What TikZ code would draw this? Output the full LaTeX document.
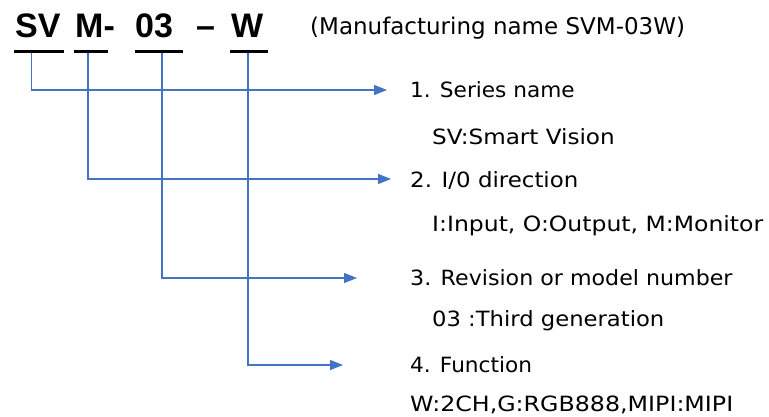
\documentclass[tikz,border=0pt]{standalone}
\usepackage{fontspec}
\usepackage{graphicx}
\setmainfont{DejaVu Sans}
\newfontfamily\titlefont{Liberation Sans}
\usetikzlibrary{arrows.meta}
\definecolor{linec}{HTML}{5873A6}
\definecolor{tipc}{HTML}{4472C4}
\tikzset{
  titlepart/.style={anchor=base west, inner sep=0pt, font=\titlefont\bfseries\fontsize{34}{40}\selectfont},
  uline/.style={line width=3pt, black},
  conn/.style={draw=linec, line width=1.3pt, -{Triangle[length=13pt,width=10pt,fill=tipc]}, tipc},
  head/.style={anchor=west, inner sep=0pt, font=\fontsize{21}{24}\selectfont},
  desc/.style={anchor=west, inner sep=0pt, font=\fontsize{21}{24}\selectfont}
}
\begin{document}
\begin{tikzpicture}[x=1pt,y=-1pt]
\useasboundingbox (0,0) rectangle (769,417);
% title parts
\node[titlepart] (sv) at (15,38) {SV};
\node[titlepart] (m) at (75,38) {M-};
\node[titlepart] (n03) at (135,38) {03};
\node[titlepart] (dash) at (196,38) {–};
\node[titlepart] (w) at (231,38) {W};
\node[anchor=base west, inner sep=0pt, font=\fontsize{23}{26}\selectfont] (mfg) at (310,35) {(Manufacturing name SVM-03W)};
% underlines
\coordinate (u1a) at (14,51.5); \coordinate (u1b) at (64,51.5);
\coordinate (u2a) at (74,51.5); \coordinate (u2b) at (108,51.5);
\coordinate (u3a) at (135,51.5); \coordinate (u3b) at (183,51.5);
\coordinate (u4a) at (230,51.5); \coordinate (u4b) at (268,51.5);
\draw[uline] (u1a) -- (u1b);
\draw[uline] (u2a) -- (u2b);
\draw[uline] (u3a) -- (u3b);
\draw[uline] (u4a) -- (u4b);
% connector starts
\coordinate (s1) at (31.5,53);
\coordinate (s2) at (88,53);
\coordinate (s3) at (162,53);
\coordinate (s4) at (248,53);
% arrow tips
\coordinate (t1) at (387,90);
\coordinate (t2) at (391,179);
\coordinate (t3) at (357,278);
\coordinate (t4) at (343,365);
% labels
\node[head] (h1) at (410,90) {\scalebox{1.03}[1]{1. Series name}};
\node[desc] (d1) at (432,137) {\scalebox{1.10}[1]{SV:Smart Vision}};
\node[head] (h2) at (410,180) {\scalebox{1.09}[1]{2. I/0 direction}};
\node[desc] (d2) at (432,226) {\scalebox{1.12}[1]{I:Input, O:Output, M:Monitor}};
\node[head] (h3) at (410,278) {\scalebox{1.055}[1]{3. Revision or model number}};
\node[desc] (d3) at (432,321) {\scalebox{1.08}[1]{03 :Third generation}};
\node[head] (h4) at (410,365) {\scalebox{1.03}[1]{4. Function}};
\node[desc, anchor=base west] (d4) at (410,411) {\scalebox{1.13}[1]{W:2CH,G:RGB888,MIPI:MIPI}};
% connectors
\draw[conn] (s1) |- (t1);
\draw[conn] (s2) |- (t2);
\draw[conn] (s3) |- (t3);
\draw[conn] (s4) |- (t4);
\end{tikzpicture}
\end{document}
